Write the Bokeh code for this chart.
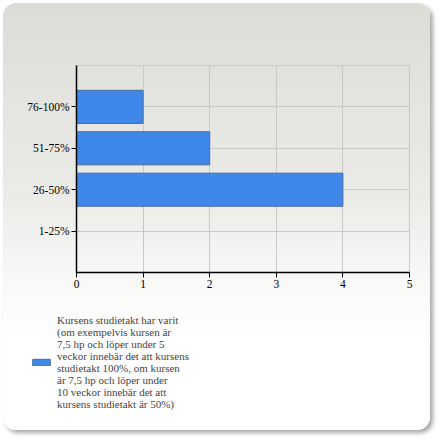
from bokeh.plotting import figure
from bokeh.layouts import column
from bokeh.models import FactorRange, Range1d, FixedTicker, Legend, LegendItem
from bokeh.embed import file_html
from bokeh.resources import INLINE

categories = ["1-25%", "26-50%", "51-75%", "76-100%"]
values = [0, 4, 2, 1]
x_ticks = [0, 1, 2, 3, 4, 5]
series_label = ("Kursens studietakt har varit\n(om exempelvis kursen är\n7,5 hp och löper under 5\n"
                "veckor innebär det att kursens\nstudietakt 100%, om kursen\när 7,5 hp och löper under\n"
                "10 veckor innebär det att\nkursens studietakt är 50%)")

FONT = "Liberation Serif"
BAR_FILL = "#3f88ea"
BAR_LINE = "#4a6c9c"
GRID = "#c8c8c4"

# main chart
p = figure(
    width=427, height=300,
    y_range=FactorRange(factors=categories, range_padding=0.25),
    x_range=Range1d(0, 5),
    output_backend="svg", toolbar_location=None,
    min_border_left=73, min_border_right=21, min_border_top=62, min_border_bottom=31,
)
p.border_fill_color = None
p.background_fill_color = None
p.outline_line_color = GRID

r = p.hbar(y=categories, right=values, left=0, height=0.8,
           fill_color=BAR_FILL, line_color=BAR_LINE, line_width=1)

p.xaxis.ticker = FixedTicker(ticks=x_ticks)
for ax in (p.xaxis[0], p.yaxis[0]):
    ax.axis_line_color = "black"
    ax.axis_line_width = 1.5
    ax.major_tick_line_color = "black"
    ax.major_tick_in = 0
    ax.major_tick_out = 5
    ax.minor_tick_line_color = None
    ax.major_label_text_font = FONT
    ax.major_label_text_font_size = "11.5px"
    ax.major_label_text_color = "black"
    ax.major_label_standoff = 2

p.xgrid.grid_line_color = GRID
p.ygrid.grid_line_color = GRID

# legend panel (a figure without axes; its only series lies outside its range)
p2 = figure(width=427, height=127, x_range=Range1d(0, 1), y_range=Range1d(0, 1),
            x_axis_location=None, y_axis_location=None,
            output_backend="svg", toolbar_location=None,
            min_border=0, min_border_left=0, min_border_right=0,
            min_border_top=0, min_border_bottom=0)
p2.grid.visible = False
p2.outline_line_color = None
p2.border_fill_color = None
p2.background_fill_color = None
r2 = p2.hbar(y=[5], right=[6], left=5, height=0.1,
             fill_color=BAR_FILL, line_color=BAR_LINE, line_width=1)

for fig in (p, p2):
    try:
        fig.frame_align = False
    except Exception:
        pass

legend = Legend(items=[LegendItem(label=series_label, renderers=[r2])],
                location=(27, 20),
                padding=0, margin=0, border_line_color=None, background_fill_alpha=0,
                glyph_width=22, glyph_height=8, label_standoff=5,
                label_text_font=FONT, label_text_font_size="11px",
                label_text_line_height=1.06)
p2.add_layout(legend, "center")

page = column(p, p2, spacing=0)
page.styles = {
    "margin": "3px 0 0 3px",
    "background": "linear-gradient(to bottom, #dcdcd7 0%, #ebebe8 45%, #f8f8f7 65%, #ffffff 80%)",
    "border-radius": "13px",
    "box-shadow": "3px 3px 4px rgba(0,0,0,0.35)",
}

open("out.html", "w").write(file_html(page, INLINE))
